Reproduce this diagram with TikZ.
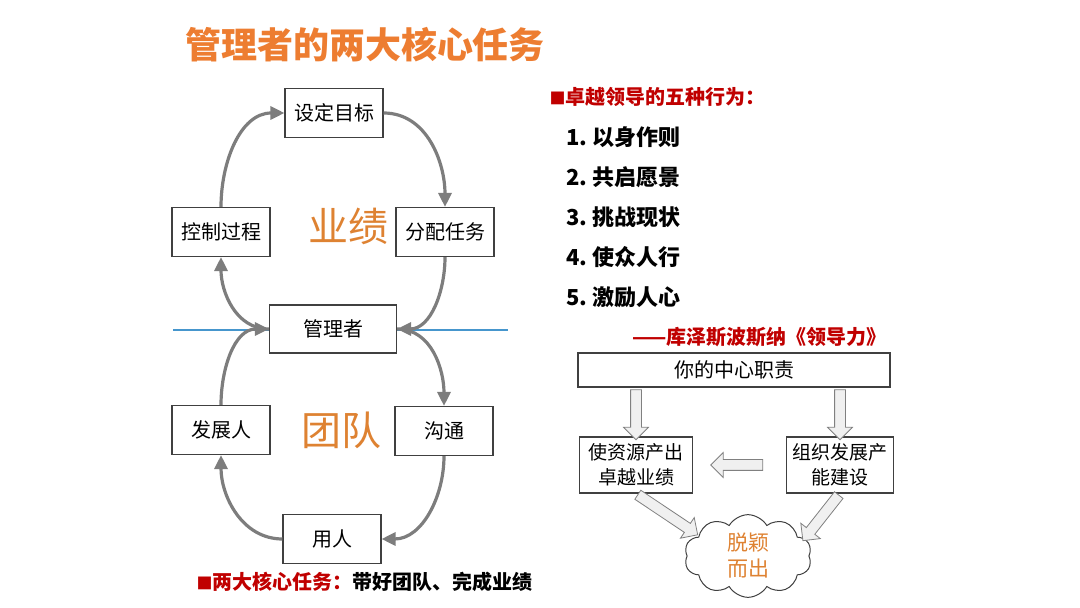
\documentclass[tikz,border=0pt]{standalone}
\usepackage{fontspec}
\setmainfont{Noto Sans CJK SC}
\usetikzlibrary{arrows.meta,shapes.arrows,shapes.symbols}

\definecolor{titleorange}{RGB}{237,125,49}
\definecolor{wordorange}{RGB}{222,130,50}
\definecolor{headred}{RGB}{192,0,0}
\definecolor{flowgray}{RGB}{125,125,125}
\definecolor{axisblue}{RGB}{70,150,205}

\begin{document}
\begin{tikzpicture}[x=1pt,y=1pt]
\tikzset{
    box/.style={draw=black!75, line width=1.1pt, fill=white, minimum width=98pt,
        minimum height=49pt, inner sep=2pt, font=\fontsize{20}{24}\selectfont},
    duty box/.style={box, align=center, font=\fontsize{19}{25}\selectfont},
    flow/.style={draw=flowgray, line width=3.2pt, -{Triangle[length=14pt,width=13pt]}},
    hollow/.style={single arrow, draw=gray, fill=gray!12, line width=0.8pt,
        single arrow head extend=7pt, inner sep=5pt, sloped, allow upside down},
    big word/.style={text=wordorange, font=\fontsize{40}{40}\selectfont},
    item/.style={anchor=west, font=\bfseries\fontsize{22}{22}\selectfont}}
\useasboundingbox (0,0) rectangle (1080,608);

% title
\node[text=titleorange, font=\bfseries\fontsize{36}{36}\selectfont] (title) at (365,563) {管理者的两大核心任务};

% the two cycles
\draw[axisblue, line width=1.2pt] (173,278) -- (508,278);

\node[box] (goal) at (334,495) {设定目标};
\node[box] (ctrl) at (221,376) {控制过程};
\node[box] (assign) at (445,376) {分配任务};
\node[box, minimum width=127pt, minimum height=48pt] (mgr) at (333,279) {管理者};
\node[box] (dev) at (221,178) {发展人};
\node[box] (comm) at (444,177) {沟通};
\node[box] (use) at (332,69) {用人};

\node[big word] (perf) at (348,382) {业绩};
\node[big word] (team) at (341,178) {团队};

\draw[flow] (ctrl.north) to[out=90,in=180] (goal.west);
\draw[flow] (goal.east) to[out=0,in=90] (assign.north);
\draw[flow] (assign.south) to[out=-90,in=0] (mgr.east);
\draw[flow] (mgr.west) to[out=180,in=-90] (ctrl.south);
\draw[flow] (mgr.east) to[out=0,in=90] (comm.north);
\draw[flow] (comm.south) to[out=-90,in=0] (use.east);
\draw[flow] (use.west) to[out=180,in=-90] (dev.south);
\draw[flow] (dev.north) to[out=90,in=180] (mgr.west);

\node[anchor=west, font=\bfseries\fontsize{20}{20}\selectfont] (tasks) at (193,26)
    {\textcolor{headred}{{\fontsize{16}{16}\selectfont ■}两大核心任务：}带好团队、完成业绩};

% five behaviours
\node[anchor=west, text=headred, font=\bfseries\fontsize{20}{20}\selectfont] (head) at (546,511)
    {{\fontsize{16}{16}\selectfont ■}卓越领导的五种行为：};
\foreach \t [count=\n] in {以身作则,共启愿景,挑战现状,使众人行,激励人心}{
    \node[item] (b\n) at (563,511-40*\n) {\n.\ \t};
}
\node[anchor=east, text=headred, font=\bfseries\fontsize{20}{20}\selectfont] (cite) at (890,271)
    {——库泽斯波斯纳《领导力》};

% central duty
\node[box, minimum width=312pt, minimum height=34pt] (duty) at (734,238) {你的中心职责};
\node[duty box, minimum width=113pt, minimum height=56pt] (res) at (636,143) {使资源产出\\卓越业绩};
\node[duty box, minimum width=107pt, minimum height=56pt] (org) at (840,143) {组织发展产\\能建设};
\node[cloud, cloud puffs=10, cloud puff arc=120, aspect=1.9, draw=black!75, line width=1pt,
    inner sep=0pt, minimum width=116pt, minimum height=64pt, align=center, text=wordorange,
    font=\fontsize{21}{26}\selectfont] (cloud) at (748,52) {脱颖\\而出};

\coordinate (inL) at (695,75);
\coordinate (inR) at (805,70);
\path (duty.south -| res) -- (res.north) node[midway, hollow, minimum height=50pt] {};
\path (duty.south -| org) -- (org.north) node[midway, hollow, minimum height=50pt] {};
\path (org.west) -- (res.east) node[midway, hollow, minimum height=52pt] {};
\path (res.south) -- (inL) node[midway, hollow, minimum height=72pt] {};
\path (org.south) -- (inR) node[midway, hollow, minimum height=58pt] {};
\end{tikzpicture}
\end{document}
